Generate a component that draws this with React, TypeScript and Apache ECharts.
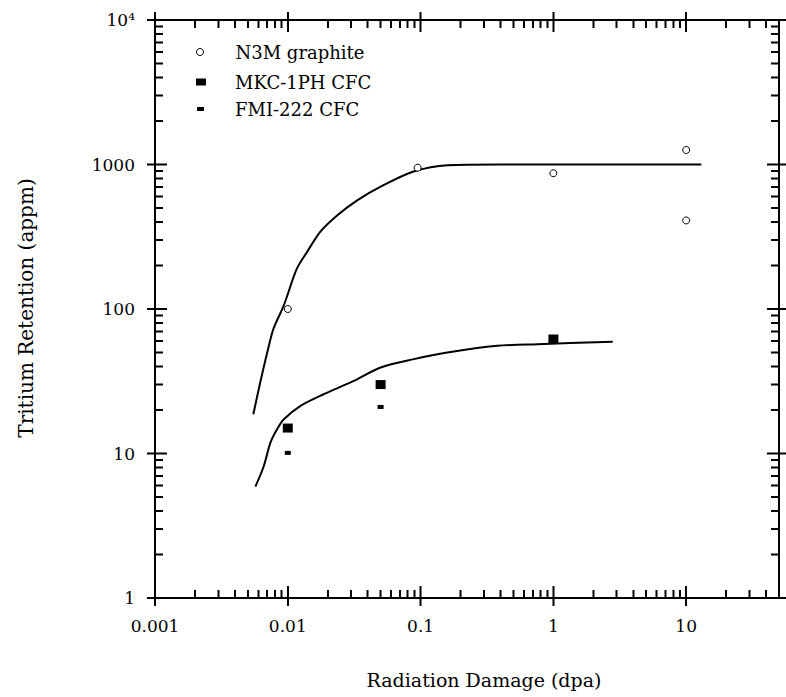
import React, { useEffect, useRef } from 'react';
import * as echarts from 'echarts';

const xTickValues = [0.001, 0.01, 0.1, 1, 10];
const xTickLabels = ['0.001', '0.01', '0.1', '1', '10'];
const yTickValues = [1, 10, 100, 1000, 10000];
const yTickLabels = ['1', '10', '100', '1000', '10⁴'];
const minorMultipliers = [2, 3, 4, 5, 6, 7, 8, 9];

const n3mX = [0.01, 0.095, 1, 10, 10];
const n3mY = [100, 950, 870, 1260, 410];
const mkcX = [0.01, 0.05, 1];
const mkcY = [15, 30, 62];
const fmiX = [0.01, 0.05];
const fmiY = [10.1, 21];

const fitUpperX = [0.0055, 0.0062, 0.007, 0.0078, 0.0093, 0.0117, 0.014, 0.0176, 0.0235, 0.0333, 0.05, 0.0886, 0.159, 0.38, 1, 3, 13];
const fitUpperY = [18.7, 31, 50, 73, 105, 190, 249, 343, 444, 565, 703, 894, 989, 1000, 1000, 1000, 1000];
const fitLowerX = [0.0057, 0.0066, 0.0074, 0.0083, 0.0093, 0.0124, 0.0186, 0.0314, 0.05, 0.089, 0.159, 0.379, 0.76, 2.8];
const fitLowerY = [5.9, 8.2, 11.9, 14.7, 17.2, 21.3, 25.7, 31.8, 39.4, 45, 50, 55.6, 57.1, 59.3];

const X_MIN = 0.001;
const X_MAX = 50;
const Y_MIN = 1;
const Y_MAX = 10000;

const FONT = 'DejaVu Serif';

function labelFor(values: number[], labels: string[], v: number) {
  const i = values.findIndex((t) => Math.abs(Math.log10(t) - Math.log10(v)) < 1e-6);
  return i >= 0 ? labels[i] : '';
}

function tickRect(x: number, y: number, w: number, h: number) {
  return {
    type: 'rect',
    z: 100,
    silent: true,
    shape: { x: Math.round(x * 2) / 2, y: Math.round(y * 2) / 2, width: w, height: h },
    style: { fill: '#000' },
  };
}

export default function App() {
  const ref = useRef<HTMLDivElement>(null);
  useEffect(() => {
    if (!ref.current) return;
    const chart = echarts.init(ref.current, null, { renderer: 'svg' });

    const legendText = { fontFamily: FONT, fontSize: 18, color: '#000' };
    const titles: any[] = [
      {
        type: 'text',
        x: 484,
        y: 680,
        style: { text: 'Radiation Damage (dpa)', fontFamily: FONT, fontSize: 19, fill: '#000', textAlign: 'center', textVerticalAlign: 'middle' },
      },
      {
        type: 'text',
        x: 26,
        y: 308,
        rotation: Math.PI / 2,
        style: { text: 'Tritium Retention (appm)', fontFamily: FONT, fontSize: 20, fill: '#000', textAlign: 'center', textVerticalAlign: 'middle' },
      },
    ];

    const option: any = {
      animation: false,
      backgroundColor: '#fff',
      grid: {
        left: 155,
        right: 7,
        top: 20,
        bottom: 99,
        show: true,
        borderColor: '#000',
        borderWidth: 2,
        backgroundColor: 'transparent',
      },
      xAxis: {
        type: 'log',
        min: X_MIN,
        max: X_MAX,
        axisLine: { show: true, lineStyle: { color: '#000', width: 2 } },
        axisTick: { show: false },
        splitLine: { show: false },
        axisLabel: {
          color: '#000',
          fontFamily: FONT,
          fontSize: 17,
          margin: 19,
          showMaxLabel: false,
          formatter: (v: number) => labelFor(xTickValues, xTickLabels, v),
        },
      },
      yAxis: {
        type: 'log',
        min: Y_MIN,
        max: Y_MAX,
        axisLine: { show: true, lineStyle: { color: '#000', width: 2 } },
        axisTick: { show: false },
        splitLine: { show: false },
        axisLabel: {
          color: '#000',
          fontFamily: FONT,
          fontSize: 17,
          margin: 20,
          formatter: (v: number) => labelFor(yTickValues, yTickLabels, v),
        },
      },
      legend: [
        {
          data: [{ name: 'N3M graphite', icon: 'circle', itemStyle: { color: '#fff', borderColor: '#000', borderWidth: 1 } }],
          left: 196,
          top: 43,
          padding: 0,
          itemWidth: 7,
          itemHeight: 7,
          textStyle: { ...legendText, padding: [0, 0, 0, 27] },
          selectedMode: false,
        },
        {
          data: [{ name: 'MKC-1PH CFC', icon: 'rect', itemStyle: { color: '#000' } }],
          left: 196,
          top: 73,
          padding: 0,
          itemWidth: 10,
          itemHeight: 7,
          textStyle: { ...legendText, padding: [0, 0, 0, 24] },
          selectedMode: false,
        },
        {
          data: [{ name: 'FMI-222 CFC', icon: 'rect', itemStyle: { color: '#000' } }],
          left: 197,
          top: 100,
          padding: 0,
          itemWidth: 7,
          itemHeight: 4,
          textStyle: { ...legendText, padding: [0, 0, 0, 26] },
          selectedMode: false,
        },
      ],
      graphic: titles,
      series: [
        {
          type: 'line',
          name: 'fit N3M',
          data: fitUpperX.map((x, i) => [x, fitUpperY[i]]),
          smooth: 0.3,
          showSymbol: false,
          lineStyle: { color: '#000', width: 2 },
          silent: true,
        },
        {
          type: 'line',
          name: 'fit CFC',
          data: fitLowerX.map((x, i) => [x, fitLowerY[i]]),
          smooth: 0.3,
          showSymbol: false,
          lineStyle: { color: '#000', width: 2 },
          silent: true,
        },
        {
          type: 'scatter',
          name: 'N3M graphite',
          data: n3mX.map((x, i) => [x, n3mY[i]]),
          symbol: 'circle',
          symbolSize: 7,
          itemStyle: { color: '#fff', borderColor: '#000', borderWidth: 1, opacity: 1 },
          z: 4,
        },
        {
          type: 'scatter',
          name: 'MKC-1PH CFC',
          data: mkcX.map((x, i) => [x, mkcY[i]]),
          symbol: 'rect',
          symbolSize: [10, 9],
          itemStyle: { color: '#000', opacity: 1 },
          z: 4,
        },
        {
          type: 'scatter',
          name: 'FMI-222 CFC',
          data: fmiX.map((x, i) => [x, fmiY[i]]),
          symbol: 'rect',
          symbolSize: [6, 4],
          itemStyle: { color: '#000', opacity: 1 },
          z: 4,
        },
      ],
    };
    chart.setOption(option);

    // Ticks on all four sides. Decade positions come from the chart's own log scales;
    // minor positions are placed at log10(m) of each decade span.
    const px = (x: number, y: number) => chart.convertToPixel({ gridIndex: 0 }, [x, y]) as number[];
    const corner0 = px(X_MIN, Y_MIN);
    const corner1 = px(X_MAX, Y_MAX);
    const left = corner0[0];
    const bottom = corner0[1];
    const right = corner1[0];
    const top = corner1[1];
    const xMajorPix = xTickValues.map((d) => px(d, Y_MIN)[0]);
    const yMajorPix = yTickValues.map((d) => px(X_MIN, d)[1]);
    const xDecade = xMajorPix[1] - xMajorPix[0];
    const yDecade = yMajorPix[1] - yMajorPix[0];

    const MAJ_IN = 12;
    const MAJ_OUT = 8;
    const MIN_IN = 8;
    const W = 2;
    const ticks: any[] = [];
    xMajorPix.forEach((x0) => {
      ticks.push(tickRect(x0 - W / 2, bottom - MAJ_IN, W, MAJ_IN + MAJ_OUT));
      ticks.push(tickRect(x0 - W / 2, top - MAJ_OUT, W, MAJ_IN + MAJ_OUT));
      minorMultipliers.forEach((m) => {
        const x = x0 + Math.log10(m) * xDecade;
        if (x >= right - 1) return;
        ticks.push(tickRect(x - W / 2, bottom - MIN_IN, W, MIN_IN));
        ticks.push(tickRect(x - W / 2, top, W, MIN_IN));
      });
    });
    yMajorPix.forEach((y0, i) => {
      ticks.push(tickRect(left - MAJ_OUT, y0 - W / 2, MAJ_IN + MAJ_OUT, W));
      ticks.push(tickRect(right - MAJ_IN, y0 - W / 2, MAJ_IN + MAJ_OUT, W));
      if (i === yMajorPix.length - 1) return;
      minorMultipliers.forEach((m) => {
        const y = y0 + Math.log10(m) * yDecade;
        ticks.push(tickRect(left, y - W / 2, MIN_IN, W));
        ticks.push(tickRect(right - MIN_IN, y - W / 2, MIN_IN, W));
      });
    });
    chart.setOption({ graphic: [...titles, ...ticks] });

    return () => chart.dispose();
  }, []);
  return <div ref={ref} style={{ position: 'absolute', left: 0, top: 0, width: 786, height: 697 }} />;
}
